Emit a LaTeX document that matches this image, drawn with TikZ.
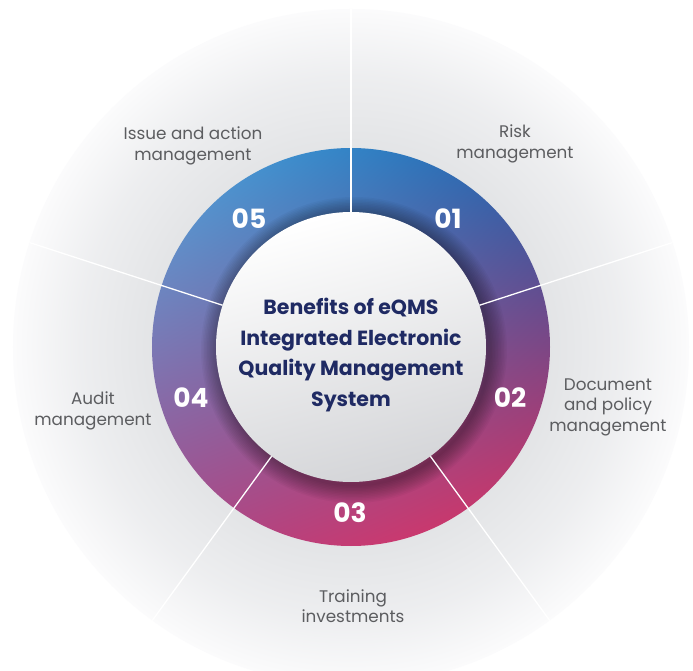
\documentclass[tikz,border=0pt]{standalone}
\usepackage{fontspec}
\setmainfont{Poppins}
\usetikzlibrary{shadings}
\definecolor{labelgray}{HTML}{5C5D60}
\definecolor{navy}{HTML}{1F2A63}
\definecolor{ringUL}{HTML}{4CA8E0}
\definecolor{ringUR}{HTML}{1A5EAB}
\definecolor{ringLL}{HTML}{A94888}
\definecolor{ringLR}{HTML}{E02E5E}
\definecolor{innerlow}{HTML}{D4D5D8}
\pgfdeclareradialshading{diskshade}{\pgfpoint{0bp}{0bp}}{rgb(0bp)=(0.89,0.895,0.903); rgb(14.7bp)=(0.89,0.895,0.903); rgb(20bp)=(0.93,0.933,0.94); rgb(25bp)=(0.985,0.985,0.988); rgb(50bp)=(1,1,1)}
\tikzset{
  sepline/.style={draw=white, line width=1.3pt},
  numstyle/.style={text=white, font={\fontsize{26.5}{27}\selectfont\bfseries}, inner sep=0pt},
  labelstyle/.style={text=labelgray, font={\fontsize{16.8}{20.5}\selectfont}, align=center, inner sep=0pt},
  titlestyle/.style={text=navy, font={\fontsize{20.5}{30.6}\selectfont\bfseries}, align=center, inner sep=0pt},
  shadowring/.style={draw=black, opacity=0.03}
}
\begin{document}
\begin{tikzpicture}[x=1pt,y=1pt]
\useasboundingbox (-351,-324) rectangle (342,347);
\fill[white] (-351,-324) rectangle (342,347);
% outer disk
\shade[shading=diskshade] (0,0) circle (338);
% ring
\shade[upper left=ringUL, upper right=ringUR, lower left=ringLL, lower right=ringLR, even odd rule] (0,0) circle (199) (0,0) circle (134);
% shadow of inner circle on ring
\begin{scope}
  \clip (0,0) circle (199);
  \foreach \w in {3,6,...,36}{
    \draw[shadowring, line width=\w pt] (3,-3) circle (135);
  }
\end{scope}
% inner circle
\shade[top color=white, bottom color=innerlow, shading angle=15] (0,0) circle (135);
% separators
\foreach \a in {90,18,-54,-126,162}{
  \draw[sepline] (\a:135) -- (\a:338);
}
% numbers
\node[numstyle] (n1) at (97,128) {01};
\node[numstyle] (n2) at (159,-51) {02};
\node[numstyle] (n3) at (-1,-166) {03};
\node[numstyle] (n4) at (-160,-51) {04};
\node[numstyle] (n5) at (-102,128) {05};
% title
\node[titlestyle] (title) at (0,-8) {Benefits of eQMS\\Integrated Electronic\\Quality Management\\System};
% labels
\node[labelstyle] (l1) at (164,203) {Risk\\management};
\node[labelstyle] (l2) at (257,-60) {Document\\and policy\\management};
\node[labelstyle] (l3) at (2,-259) {Training\\investments};
\node[labelstyle] (l4) at (-258,-64) {Audit\\management};
\node[labelstyle] (l5) at (-158,201) {Issue and action\\management};
\end{tikzpicture}
\end{document}
